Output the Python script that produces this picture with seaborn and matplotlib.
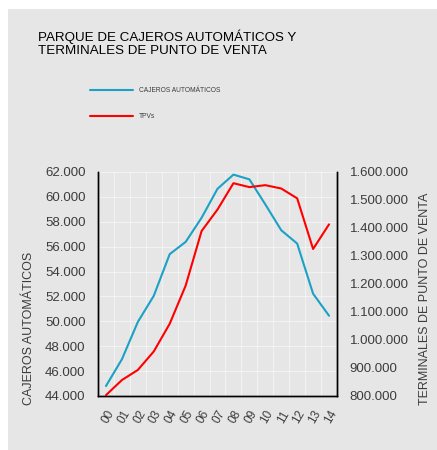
import matplotlib
matplotlib.use("Agg")
import matplotlib.pyplot as plt
import matplotlib.ticker as mticker
from matplotlib.patches import Rectangle
import seaborn as sns
import pandas as pd

sns.set_style("white")
plt.rcParams['font.family'] = ['Liberation Sans', 'DejaVu Sans']

# data
years = ['00', '01', '02', '03', '04', '05', '06', '07', '08', '09', '10', '11', '12', '13', '14']
cajeros = [44800, 46950, 49950, 52050, 55400, 56380, 58320, 60650, 61790, 61410, 59400, 57320, 56250, 52220, 50450]
tpvs = [803000, 857000, 893000, 959000, 1058000, 1194000, 1389000, 1466000, 1560000, 1546000, 1553000, 1541000, 1506000, 1325000, 1413000]

df = pd.DataFrame({'pos': range(len(years)), 'year': years, 'cajeros': cajeros, 'tpvs': tpvs})

bg = '#e6e6e6'
txt = '#3c3c3c'
blue = '#1ba1c6'
red = '#ff0000'

fig = plt.figure(figsize=(4.37, 4.5), dpi=100, facecolor='white')
fig.patches.append(Rectangle((8 / 437, 0), 1, 1 - 9 / 450, transform=fig.transFigure,
                             facecolor=bg, edgecolor='none', zorder=-10))

ax = fig.add_axes([98 / 437, 1 - 396 / 450, (337 - 98) / 437, (396 - 172) / 450])
ax.set_facecolor(bg)
ax2 = ax.twinx()

sns.lineplot(data=df, x='pos', y='cajeros', ax=ax, color=blue, linewidth=1.5, label='CAJEROS AUTOMÁTICOS', legend=False)
sns.lineplot(data=df, x='pos', y='tpvs', ax=ax2, color=red, linewidth=1.5, label='TPVs', legend=False)

ax.set_xlim(-0.5, len(years) - 0.5)
ax.set_ylim(44000, 62000)
ax2.set_ylim(800000, 1600000)
ax.set_yticks(range(44000, 62001, 2000))
ax2.set_yticks(range(800000, 1600001, 100000))
fmt = mticker.FuncFormatter(lambda v, p: f"{v:,.0f}".replace(",", "."))
ax.yaxis.set_major_formatter(fmt)
ax2.yaxis.set_major_formatter(fmt)

ax.set_xticks(range(len(years)))
ax.set_xticklabels(years, rotation=60, ha='right', rotation_mode='anchor')
ax.set_xticks([i + 0.5 for i in range(len(years) - 1)], minor=True)
ax.grid(False)
ax.grid(True, which='minor', axis='x', color='white', linewidth=0.6, alpha=0.6)
ax.grid(True, which='major', axis='y', color='white', linewidth=0.6, alpha=0.6)
ax2.grid(False)

ax.set_xlabel('')
ax.set_ylabel('')
ax2.set_ylabel('')
ax.tick_params(axis='both', which='both', length=0, labelsize=9.5, labelcolor=txt)
ax.tick_params(axis='y', pad=9)
ax.tick_params(axis='x', pad=9, labelsize=8.5)
ax2.tick_params(axis='y', length=0, labelsize=9.5, labelcolor=txt, pad=9)

for a in (ax, ax2):
    a.spines['top'].set_visible(False)
    for s in ('left', 'right', 'bottom'):
        a.spines[s].set_color('black')
        a.spines[s].set_linewidth(1.0)

fig.text(29 / 437, 1 - 405 / 450, 'CAJEROS AUTOMÁTICOS', rotation=90, ha='center', va='bottom',
         fontsize=9, color=txt)
fig.text(425 / 437, 1 - 405 / 450, 'TERMINALES DE PUNTO DE VENTA', rotation=90, ha='center', va='bottom',
         fontsize=9, color=txt)

fig.text(38 / 437, 1 - 30 / 450, 'PARQUE DE CAJEROS AUTOMÁTICOS Y\nTERMINALES DE PUNTO DE VENTA',
         ha='left', va='top', fontsize=9.6, color='black', linespacing=1.05)

h1, l1 = ax.get_legend_handles_labels()
h2, l2 = ax2.get_legend_handles_labels()
fig.legend(h1 + h2, l1 + l2, loc='upper left', bbox_to_anchor=(90 / 437, 1 - 87 / 450),
           frameon=False, fontsize=4.8, labelcolor=txt, handlelength=6.5, handletextpad=0.8,
           labelspacing=2.9, borderpad=0, borderaxespad=0)

fig.savefig('out.png', dpi=100, facecolor='white')
